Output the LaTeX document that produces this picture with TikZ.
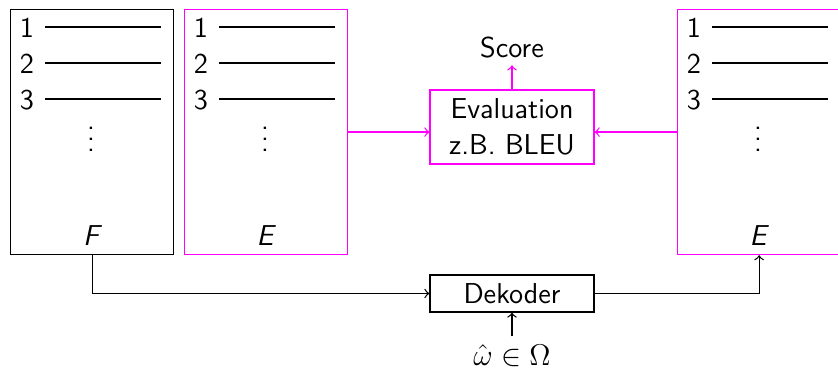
\documentclass[tikz,border=0pt]{standalone}
\usepackage{amsmath}
\usetikzlibrary{positioning}
\definecolor{mag}{RGB}{255,0,255}
\newcommand{\myvdots}{\vbox{\baselineskip4.4pt\lineskiplimit0pt\hbox{.}\hbox{.}\hbox{.}}}
\begin{document}
\begin{tikzpicture}[x=0.4pt,y=-0.4pt,
  every node/.style={font=\sffamily\fontsize{11.5}{14.4}\selectfont},
  listbox/.style={draw,rectangle,line width=0.5pt,minimum width=65.2pt,minimum height=98pt,inner sep=0pt,anchor=north west},
  magbox/.style={listbox,draw=mag},
  procbox/.style={draw,rectangle,line width=0.5pt,minimum width=65.6pt,inner sep=0pt,align=center},
  arr/.style={->,line width=0.5pt},
  marr/.style={arr,draw=mag},
  num/.style={inner sep=0pt,anchor=center}
]
\useasboundingbox (0,0) rectangle (838,370);
\node[listbox] (F) at (10,9) {};
\node[magbox] (E1) at (184,9) {};
\node[magbox] (E2) at (677,9) {};
\foreach \b/\x in {F/10,E1/184,E2/677}{
  \foreach \i/\y in {1/28,2/64,3/100}{
    \node[num] (\b n\i) at (\x+17,\y) {\i};
    \draw[line width=0.5pt] (\x+35,\y-1) -- (\x+151,\y-1);
  }
  \node[num] (\b d) at (\x+81,139) {\myvdots};
}
\node[num] (Fl) at (91,236) {\itshape F};
\node[num] (E1l) at (265,236) {\itshape E};
\node[num] (E2l) at (758,236) {\itshape E};
\node[procbox,draw=mag,minimum height=29.6pt] (ev) at (512,127) {Evaluation\\z.B. BLEU};
\node[num] (score) at (512,48) {Score};
\node[procbox,minimum height=14.8pt] (dek) at (512,293.5) {Dekoder};
\node[num] (om) at (512,356) {$\hat{\omega}\in\Omega$};
\draw[marr] (E1.east) -- (E1.east -| ev.west);
\draw[marr] (E2.west) -- (E2.west -| ev.east);
\draw[marr] (ev.north) -- ++(0,-24);
\draw[arr] (F.south) |- (dek.west);
\draw[arr] (dek.east) -| (E2.south);
\draw[arr] (om.north) ++(0,-8) -- (dek.south);
\end{tikzpicture}
\end{document}
